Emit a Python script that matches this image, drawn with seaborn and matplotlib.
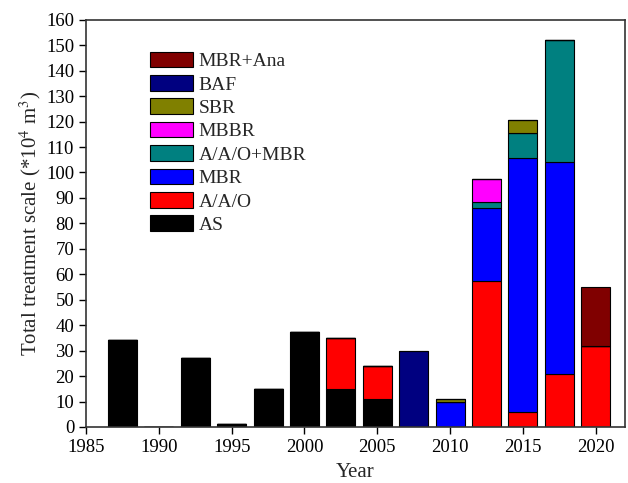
import matplotlib
matplotlib.use("Agg")
import matplotlib.pyplot as plt
import pandas as pd
import seaborn as sns

# bar positions (year) and stacked values per process (*10^4 m3)
years = [1987.5, 1990, 1992.5, 1995, 1997.5, 2000, 2002.5, 2005, 2007.5, 2010,
         2012.5, 2015, 2017.5, 2020]
AS = [34, 0, 27, 1.3, 15, 37.5, 15, 11, 0, 0, 0, 0, 0, 0]
AAO = [0, 0, 0, 0, 0, 0, 20, 13, 0, 0, 57.5, 6, 21, 32]
MBR = [0, 0, 0, 0, 0, 0, 0, 0, 0, 10, 28.5, 99.5, 83, 0]
AAO_MBR = [0, 0, 0, 0, 0, 0, 0, 0, 0, 0, 2.5, 10, 48, 0]
MBBR = [0, 0, 0, 0, 0, 0, 0, 0, 0, 0, 9, 0, 0, 0]
SBR = [0, 0, 0, 0, 0, 0, 0, 0, 0, 1, 0, 5, 0, 0]
BAF = [0, 0, 0, 0, 0, 0, 0, 0, 30, 0, 0, 0, 0, 0]
MBR_Ana = [0, 0, 0, 0, 0, 0, 0, 0, 0, 0, 0, 0, 0, 23]

series = {"MBR+Ana": MBR_Ana, "BAF": BAF, "SBR": SBR, "MBBR": MBBR,
          "A/A/O+MBR": AAO_MBR, "MBR": MBR, "A/A/O": AAO, "AS": AS}
colors = {"MBR+Ana": "#800000", "BAF": "#000080", "SBR": "#808000",
          "MBBR": "#FF00FF", "A/A/O+MBR": "#008080", "MBR": "#0000FF",
          "A/A/O": "#FF0000", "AS": "#000000"}

rows = []
for name, vals in series.items():
    for y, v in zip(years, vals):
        rows.append({"Year": y, "Process": name, "Scale": v})
df = pd.DataFrame(rows)

sns.set_theme(style="ticks")
plt.rcParams["font.family"] = ["Liberation Serif", "DejaVu Serif"]
plt.rcParams["mathtext.fontset"] = "stix"

fig = plt.figure(figsize=(6.28, 4.83), dpi=100)
ax = fig.add_axes([0.137, 0.116, 0.858, 0.843])

sns.histplot(data=df, x="Year", weights="Scale", hue="Process",
             hue_order=list(series.keys()), palette=colors,
             multiple="stack", binwidth=2.5, binrange=(1986.25, 2021.25),
             shrink=0.8, alpha=1, edgecolor="black", linewidth=0.8, ax=ax)

ax.set_xlim(1985, 2022)
ax.set_ylim(0, 160)
ax.set_xticks(range(1985, 2021, 5))
ax.set_yticks(range(0, 161, 10))
ax.tick_params(labelsize=13.5, length=5, width=1, colors="black", direction="out")
for s in ax.spines.values():
    s.set_visible(True)
    s.set_color("#333333")
    s.set_linewidth(1.2)
ax.set_xlabel("Year", fontsize=15, labelpad=5)
ax.set_ylabel("Total treatment scale (*10$^4$ m$^3$)", fontsize=15, labelpad=2)

sns.move_legend(ax, loc="upper left", bbox_to_anchor=(0.119, 0.922),
                frameon=False, title=None, fontsize=14, borderaxespad=0,
                borderpad=0, handlelength=2.2, handleheight=0.86,
                labelspacing=0.25, handletextpad=0.3)

fig.savefig("out.png", dpi=100)
